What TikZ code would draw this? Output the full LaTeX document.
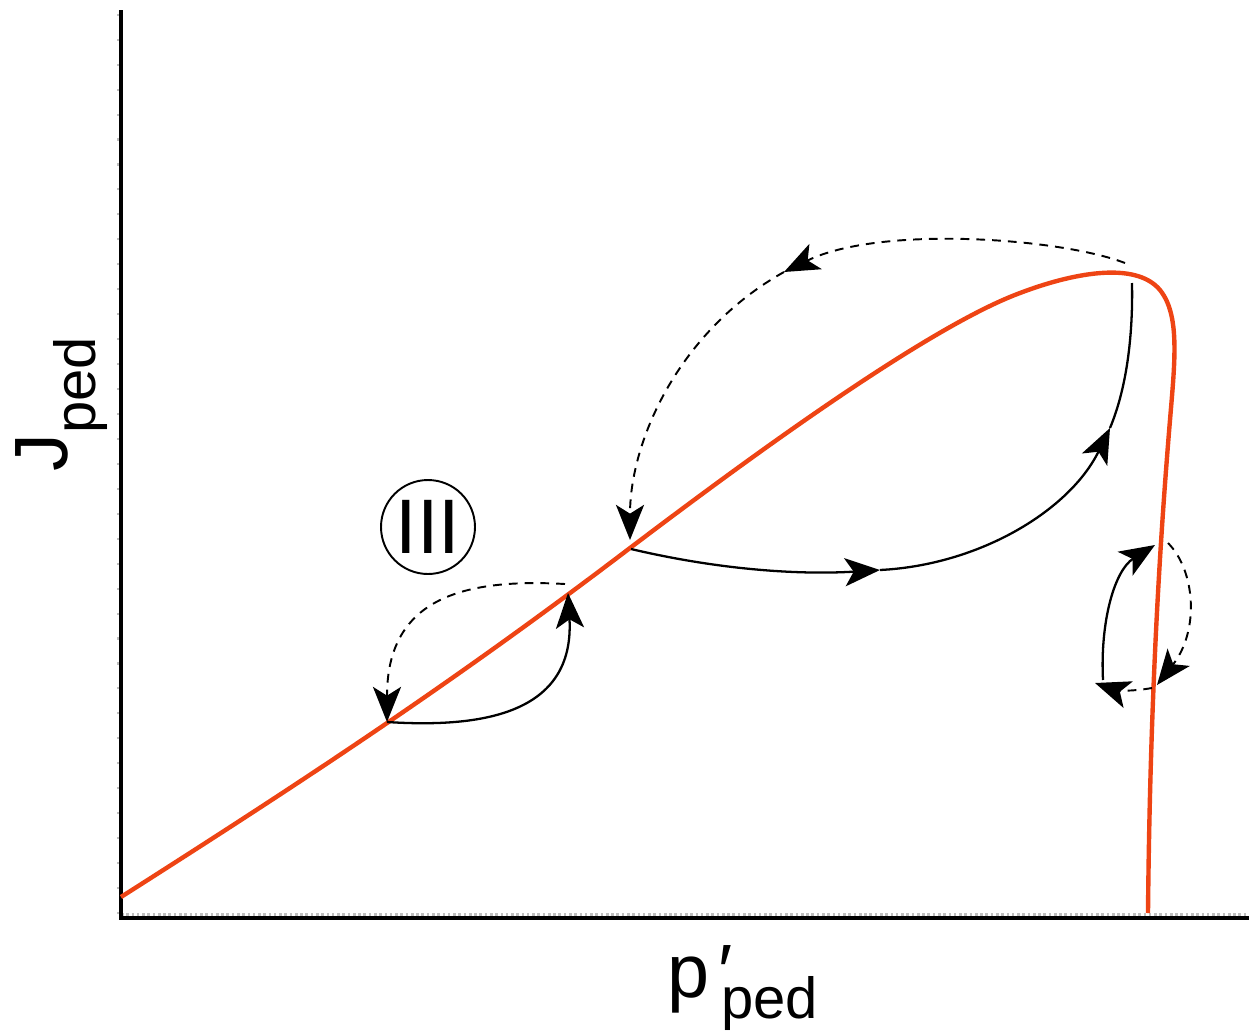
\documentclass[tikz,border=0pt]{standalone}
\usepackage{fontspec}
\setmainfont{Liberation Sans}
\usetikzlibrary{arrows.meta}
\definecolor{pedred}{RGB}{238,68,20}

\begin{document}
\begin{tikzpicture}[x=0.02cm,y=-0.02cm,>={Stealth[length=20pt,width=16pt,inset=5pt]}]
  \tikzstyle{axisline}=[line width=1.9pt]
  \tikzstyle{tickline}=[gray!50,line width=1.3pt]
  \tikzstyle{pedcurve}=[draw=pedred,line width=2.5pt]
  \tikzstyle{flow}=[line width=1.3pt]
  \tikzstyle{jump}=[line width=1.1pt,dash pattern=on 5pt off 4pt]
  \useasboundingbox (0,0) rectangle (1249,1032);

  \coordinate (o) at (121,918);
  \coordinate (ytop) at (121,10);
  \coordinate (xend) at (1249,918);
  \draw[tickline,dash pattern=on 1.5pt off 1.5pt] (121,914.5) -- (1249,914.5);
  \draw[tickline,dash pattern=on 1.2pt off 13pt] (118,914) -- (118,10);
  \draw[axisline] (ytop) -- (o) -- (xend);

  \coordinate (p0) at (121,897);
  \coordinate (p1) at (630,548);
  \coordinate (p2) at (1020,293);
  \coordinate (p3) at (1160,290);
  \coordinate (p4) at (1170,420);
  \coordinate (p5) at (1148,913);
  \draw[pedcurve] (p0) .. controls (300,783) and (450,685) .. (p1)
    .. controls (720,480) and (920,330) .. (p2)
    .. controls (1070,274) and (1135,260) .. (p3)
    .. controls (1180,315) and (1175,360) .. (p4)
    .. controls (1160,540) and (1150,700) .. (p5);

  \coordinate (a1) at (387,722);
  \coordinate (a2) at (568,593);
  \coordinate (a3) at (565,584);
  \coordinate (b1) at (631,549);
  \coordinate (b2) at (880,570);
  \coordinate (b3) at (1110,428);
  \coordinate (b4) at (1132,283);
  \coordinate (c1) at (1125,263);
  \coordinate (c2) at (784,272);
  \coordinate (c3) at (630,540);
  \coordinate (d1) at (1103,680);
  \coordinate (d2) at (1155,545);
  \coordinate (d3) at (1168,543);
  \coordinate (d4) at (1157,685);
  \coordinate (d5) at (1152,688);
  \coordinate (d6) at (1095,683);

  \draw[flow,->] (a1) .. controls (480,728) and (575,715) .. (a2);
  \draw[jump,->] (a3) .. controls (460,578) and (387,600) .. (a1);

  \draw[flow,->] (b1) .. controls (720,570) and (800,575) .. (b2);
  \draw[flow,->] (b2) .. controls (980,565) and (1070,510) .. (b3);
  \draw[flow] (b3) .. controls (1128,385) and (1133,330) .. (b4);
  \draw[jump,->] (c1) .. controls (1060,238) and (880,225) .. (c2);
  \draw[jump,->] (c2) .. controls (680,330) and (630,440) .. (c3);

  \draw[flow,->] (d1) .. controls (1100,620) and (1115,570) .. (d2);
  \draw[jump,->] (d3) .. controls (1195,570) and (1200,630) .. (d4);
  \draw[jump,->] (d5) .. controls (1130,692) and (1115,690) .. (d6);

  \node[circle,draw,line width=1.1pt,minimum size=1.88cm,inner sep=0pt,font=\fontsize{44}{44}\selectfont] (region) at (428,527) {III};

  \node[rotate=90,anchor=base west,inner sep=0pt] (ylab) at (68,472) {\fontsize{43}{48}\selectfont J\raisebox{-0.36em}{\fontsize{33}{40}\selectfont ped}};
  \node[anchor=base west,inner sep=0pt] (xlab) at (667,997) {\fontsize{43}{48}\selectfont p\rlap{\kern0.12em\raisebox{0em}{′}}\kern0.16em\raisebox{-0.28em}{\fontsize{33}{40}\selectfont ped}};
\end{tikzpicture}
\end{document}
